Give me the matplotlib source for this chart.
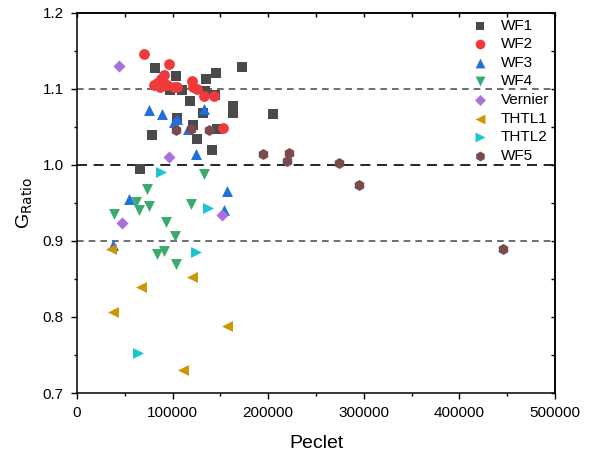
import numpy as np
import matplotlib
matplotlib.use("Agg")
import matplotlib.pyplot as plt

plt.rcParams['font.family'] = ['Liberation Sans', 'DejaVu Sans']

# data
wf1_x = [81600, 103600, 135000, 145100, 172900, 97300, 109500, 133900, 144300, 118200,
         163500, 163500, 132100, 204700, 104900, 121600, 146100, 78100, 125800, 140900, 65900]
wf1_y = [1.1265, 1.116, 1.112, 1.1207, 1.1278, 1.0988, 1.0979, 1.097, 1.092, 1.0834,
         1.0768, 1.068, 1.068, 1.0672, 1.062, 1.0518, 1.0474, 1.0386, 1.0343, 1.020, 0.9947]

wf2_x = [70400, 95900, 91000, 87900, 83400, 80900, 86800, 93800, 101500, 104300,
         120600, 121700, 125200, 133200, 143600, 153000]
wf2_y = [1.146, 1.132, 1.118, 1.112, 1.1075, 1.1045, 1.102, 1.1045, 1.102, 1.1015,
         1.110, 1.102, 1.099, 1.090, 1.090, 1.048]

wf3_x = [75600, 88600, 104300, 101500, 133200, 116100, 124200, 157200, 54700, 153800, 38000]
wf3_y = [1.0725, 1.0672, 1.0606, 1.056, 1.0738, 1.0474, 1.0145, 0.9655, 0.9552, 0.9407, 0.895]

wf4_x = [133200, 72900, 61400, 64900, 75600, 119200, 38700, 93100, 102500, 84000, 91300, 103200]
wf4_y = [0.9872, 0.9684, 0.9507, 0.9404, 0.9464, 0.949, 0.9354, 0.9253, 0.9068, 0.8828, 0.8871, 0.8696]

vern_x = [44200, 96200, 46700, 151400]
vern_y = [1.1295, 1.010, 0.923, 0.9345]

thtl1_x = [35600, 66600, 37300, 120300, 157200, 111200]
thtl1_y = [0.8893, 0.8397, 0.806, 0.852, 0.7883, 0.730]

thtl2_x = [87500, 136700, 124100, 63500]
thtl2_y = [0.9903, 0.9434, 0.8858, 0.7531]

wf5_x = [103300, 118900, 138100, 194200, 222100, 220000, 274100, 295300, 445300]
wf5_y = [1.0452, 1.0474, 1.0452, 1.0145, 1.0153, 1.0048, 1.002, 0.974, 0.889]

xmaj = np.arange(0, 500001, 100000)
xmin = np.arange(50000, 500000, 100000)
ymaj = np.arange(0.7, 1.21, 0.1)
ymin = np.arange(0.75, 1.2, 0.1)

fig = plt.figure(figsize=(5.95, 4.57), dpi=100)
ax = fig.add_axes([0.1294, 0.140, 0.8034, 0.8326])

ax.axhline(1.1, color='#555555', lw=1.2, ls=(0, (4, 3)), zorder=1)
ax.axhline(1.0, color='black', lw=1.2, ls=(0, (6, 4)), zorder=1)
ax.axhline(0.9, color='#555555', lw=1.2, ls=(0, (4, 3)), zorder=1)

ax.scatter(wf1_x, wf1_y, marker='s', s=42, color='#4a4a4a', lw=0, label='WF1', zorder=3)
ax.scatter(wf2_x, wf2_y, marker='o', s=60, color='#f0393b', lw=0, label='WF2', zorder=3)
ax.scatter(wf3_x, wf3_y, marker='^', s=62, color='#1f6fdc', lw=0, label='WF3', zorder=3)
ax.scatter(wf4_x, wf4_y, marker='v', s=62, color='#3aab6e', lw=0, label='WF4', zorder=3)
ax.scatter(vern_x, vern_y, marker='D', s=38, color='#a970e0', lw=0, label='Vernier', zorder=3)
ax.scatter(thtl1_x, thtl1_y, marker='<', s=62, color='#cc9606', lw=0, label='THTL1', zorder=3)
ax.scatter(thtl2_x, thtl2_y, marker='>', s=62, color='#18c5d1', lw=0, label='THTL2', zorder=3)
ax.scatter(wf5_x, wf5_y, marker='h', s=62, color='#7b4b4b', lw=0, label='WF5', zorder=3)

ax.set_xlim(0, 500000)
ax.set_ylim(0.7, 1.2)
ax.set_xticks(xmaj)
ax.set_xticks(xmin, minor=True)
ax.set_yticks(ymaj)
ax.set_yticks(ymin, minor=True)
ax.set_yticklabels(['0.7', '0.8', '0.9', '1.0', '1.1', '1.2'])
ax.tick_params(which='major', direction='out', length=4.5, width=1, labelsize=11, pad=5)
ax.tick_params(which='minor', direction='out', length=2.5, width=1)
for sp in ax.spines.values():
    sp.set_linewidth(1.1)

# mirrored ticks pointing inward on top and right
top = ax.secondary_xaxis('top')
top.set_xticks(xmaj)
top.set_xticks(xmin, minor=True)
top.tick_params(which='both', direction='in', length=3, width=1, labeltop=False)
top.spines['top'].set_linewidth(1.1)
right = ax.secondary_yaxis('right')
right.set_yticks(ymaj)
right.set_yticks(ymin, minor=True)
right.tick_params(which='both', direction='in', length=3, width=1, labelright=False)
right.spines['right'].set_linewidth(1.1)

ax.set_xlabel('Peclet', fontsize=14)
ax.set_ylabel(r'G$_{\mathrm{Ratio}}$', fontsize=14)
ax.xaxis.set_label_coords(0.5, -0.11)
ax.yaxis.set_label_coords(-0.088, 0.5)

ax.legend(loc='upper right', frameon=False, fontsize=11, markerscale=0.9,
          handlelength=1.2, handletextpad=0.75, labelspacing=0.3,
          borderaxespad=0.0, borderpad=0.4)

fig.savefig('out.png', dpi=100)
